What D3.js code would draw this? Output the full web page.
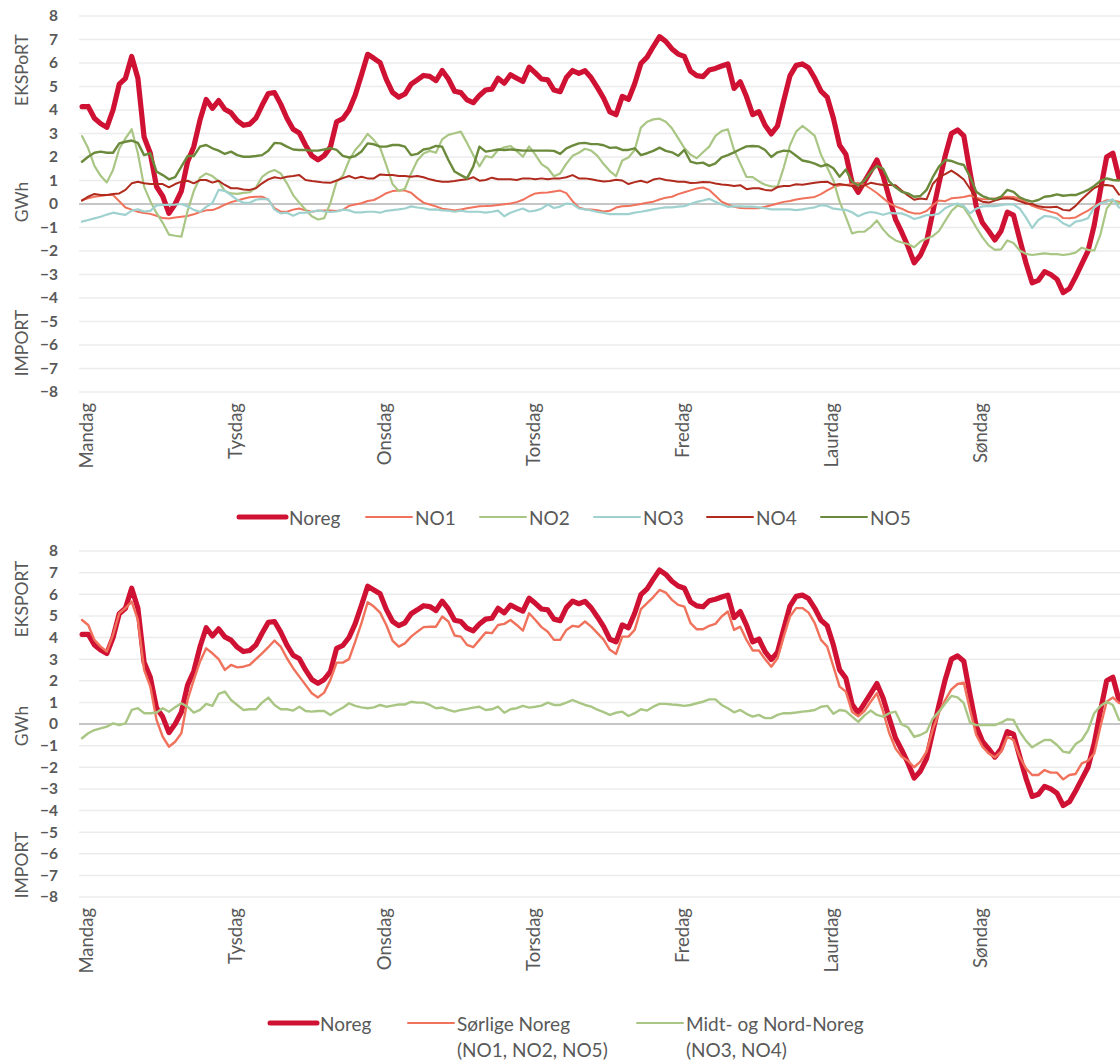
<!DOCTYPE html>
<html><head><meta charset="utf-8">
<script src="https://cdn.jsdelivr.net/npm/d3@7"></script>
<style>
body{margin:0;background:#fff}
svg{display:block;font-family:Lato,"Noto Sans",sans-serif}
</style>
</head><body>
<svg id="chart" width="1120" height="1064"></svg>
<script>
// ---------- DATA ----------
const days = ["Mandag","Tysdag","Onsdag","Torsdag","Fredag","Laurdag","Søndag"];
const yTickValues = [8,7,6,5,4,3,2,1,0,-1,-2,-3,-4,-5,-6,-7,-8];
const hours = d3.range(168);

const noreg = [4.14,4.15,3.65,3.42,3.26,4.0,5.1,5.35,6.28,5.35,2.85,2.16,0.74,0.33,-0.4,0.0,0.55,1.8,2.44,3.57,
4.45,4.07,4.4,4.03,3.88,3.55,3.35,3.4,3.65,4.2,4.7,4.74,4.25,3.65,3.18,3.02,2.5,2.06,1.88,2.06,
2.42,3.5,3.63,4.0,4.64,5.49,6.37,6.2,6.02,5.3,4.75,4.55,4.68,5.1,5.28,5.47,5.43,5.25,5.68,5.32,
4.8,4.74,4.43,4.31,4.62,4.85,4.89,5.35,5.14,5.5,5.35,5.22,5.82,5.58,5.32,5.28,4.85,4.78,5.38,5.68,
5.56,5.67,5.37,4.95,4.5,3.92,3.8,4.58,4.45,5.12,5.98,6.25,6.7,7.12,6.92,6.6,6.38,6.28,5.65,5.46,
5.42,5.7,5.77,5.87,5.96,4.92,5.2,4.57,3.8,3.93,3.35,2.98,3.32,4.4,5.45,5.9,5.96,5.8,5.35,4.8,
4.55,3.65,2.5,2.12,0.92,0.5,0.95,1.4,1.87,1.2,0.25,-0.65,-1.2,-1.8,-2.5,-2.18,-1.6,-0.35,0.88,2.05,
3.0,3.15,2.9,1.35,-0.1,-0.8,-1.15,-1.53,-1.15,-0.35,-0.47,-1.5,-2.5,-3.35,-3.25,-2.88,-3.0,-3.2,-3.77,-3.6,
-3.1,-2.55,-2.0,-0.9,0.6,2.0,2.16,1.1];

const no1 = [0.17,0.24,0.31,0.34,0.38,0.38,0.12,-0.15,-0.24,-0.33,-0.38,-0.42,-0.5,-0.6,-0.62,-0.57,-0.54,-0.51,-0.44,-0.34,
-0.27,-0.26,-0.16,-0.03,0.08,0.15,0.22,0.29,0.31,0.31,0.18,-0.17,-0.32,-0.33,-0.24,-0.19,-0.27,-0.33,-0.29,-0.28,
-0.28,-0.3,-0.25,-0.08,-0.02,0.03,0.13,0.17,0.3,0.46,0.55,0.57,0.57,0.48,0.25,0.06,-0.02,-0.1,-0.2,-0.23,
-0.28,-0.23,-0.18,-0.14,-0.1,-0.09,-0.07,-0.04,-0.01,0.02,0.08,0.18,0.33,0.45,0.48,0.49,0.53,0.57,0.46,0.12,
-0.15,-0.22,-0.23,-0.27,-0.32,-0.29,-0.15,-0.1,-0.09,-0.04,0.0,0.05,0.1,0.19,0.27,0.31,0.42,0.5,0.58,0.66,
0.7,0.6,0.35,0.1,-0.02,-0.12,-0.17,-0.18,-0.18,-0.18,-0.12,-0.05,0.02,0.09,0.13,0.19,0.23,0.27,0.3,0.42,
0.58,0.72,0.8,0.81,0.85,0.9,0.82,0.65,0.47,0.25,0.03,-0.1,-0.2,-0.33,-0.4,-0.4,-0.3,-0.05,0.15,0.12,
0.24,0.27,0.3,0.36,0.27,0.2,0.2,0.23,0.3,0.31,0.3,0.22,0.08,-0.08,-0.17,-0.25,-0.33,-0.4,-0.6,-0.61,
-0.57,-0.42,-0.28,-0.1,0.05,0.16,0.14,0.1];

const no2 = [2.89,2.37,1.62,1.2,0.92,1.45,2.35,2.79,3.18,2.16,0.74,0.12,-0.38,-0.8,-1.3,-1.35,-1.39,-0.3,0.55,1.12,
1.3,1.19,0.97,0.55,0.45,0.43,0.47,0.5,0.7,1.15,1.35,1.45,1.3,0.88,0.38,0.05,-0.24,-0.52,-0.66,-0.6,
0.05,0.95,1.2,1.85,2.3,2.6,2.98,2.72,2.4,1.65,0.85,0.55,0.65,1.3,1.85,2.15,2.26,2.18,2.75,2.94,
3.01,3.08,2.6,2.08,1.6,2.04,1.98,2.3,2.41,2.47,2.25,2.01,2.45,2.1,1.7,1.52,1.18,1.3,1.72,2.05,
2.18,2.35,2.27,2.05,1.7,1.4,1.19,1.85,1.98,2.3,3.25,3.5,3.6,3.63,3.5,3.22,2.8,2.38,2.1,1.95,
2.2,2.44,2.9,3.1,3.18,2.3,1.73,1.15,1.14,0.96,0.82,0.75,0.74,1.55,2.5,3.08,3.32,3.12,2.9,2.1,
1.55,1.0,0.1,-0.55,-1.25,-1.18,-1.18,-0.98,-0.7,-1.08,-1.37,-1.55,-1.64,-1.7,-1.84,-1.6,-1.47,-1.37,-1.15,-0.72,
-0.3,-0.06,-0.15,-0.55,-1.0,-1.42,-1.76,-1.95,-1.93,-1.55,-1.66,-1.98,-2.12,-2.17,-2.13,-2.1,-2.13,-2.13,-2.17,-2.13,
-2.07,-1.86,-1.95,-1.98,-1.3,-0.2,0.15,0.03];

const no3 = [-0.75,-0.68,-0.61,-0.54,-0.45,-0.37,-0.42,-0.46,-0.28,-0.23,-0.32,-0.29,-0.06,-0.04,-0.04,-0.03,0.0,-0.1,-0.25,-0.33,
-0.12,0.04,0.6,0.56,0.38,0.18,0.05,0.05,0.18,0.22,0.2,-0.24,-0.4,-0.37,-0.5,-0.38,-0.37,-0.33,-0.27,-0.32,
-0.34,-0.32,-0.24,-0.27,-0.36,-0.36,-0.33,-0.33,-0.37,-0.29,-0.26,-0.23,-0.19,-0.1,-0.15,-0.18,-0.24,-0.23,-0.27,-0.28,
-0.33,-0.28,-0.33,-0.33,-0.33,-0.37,-0.33,-0.28,-0.52,-0.37,-0.28,-0.19,-0.32,-0.28,-0.2,-0.02,-0.17,-0.11,0.02,0.0,
-0.19,-0.23,-0.27,-0.34,-0.38,-0.43,-0.43,-0.43,-0.43,-0.37,-0.33,-0.28,-0.23,-0.18,-0.14,-0.14,-0.11,-0.09,0.0,0.09,
0.15,0.22,0.1,-0.02,-0.12,-0.1,-0.1,-0.11,-0.11,-0.14,-0.18,-0.23,-0.23,-0.23,-0.23,-0.26,-0.23,-0.18,-0.14,-0.05,
-0.08,-0.2,-0.23,-0.25,-0.35,-0.52,-0.4,-0.34,-0.38,-0.46,-0.38,-0.4,-0.4,-0.5,-0.64,-0.57,-0.47,-0.47,-0.41,-0.18,
-0.05,0.02,-0.08,-0.4,-0.2,-0.1,-0.09,-0.09,-0.05,-0.01,-0.02,-0.2,-0.57,-1.02,-0.68,-0.51,-0.54,-0.61,-0.82,-0.95,
-0.75,-0.7,-0.6,-0.15,0.03,0.1,0.2,-0.15];

const no4 = [0.14,0.31,0.43,0.38,0.38,0.43,0.45,0.6,0.88,0.95,0.88,0.85,0.85,0.85,0.71,0.85,0.95,0.99,0.88,1.02,
1.02,0.91,0.99,0.81,0.67,0.67,0.62,0.6,0.67,0.88,1.05,1.14,1.09,1.16,1.19,1.23,1.02,0.98,0.95,0.91,
0.9,1.0,1.1,1.19,1.09,1.16,1.09,1.09,1.26,1.23,1.23,1.19,1.19,1.16,1.19,1.14,1.05,0.99,0.95,0.95,
0.98,1.02,1.05,1.14,0.99,1.02,1.12,1.05,1.05,1.05,1.02,1.09,1.09,1.05,1.09,1.05,1.09,1.09,1.14,1.23,
1.09,1.09,1.05,1.0,0.96,0.98,1.03,1.0,0.85,0.93,0.99,0.91,1.04,1.09,1.02,0.99,0.95,0.95,0.89,0.9,
0.94,0.93,0.87,0.83,0.81,0.77,0.8,0.63,0.67,0.67,0.6,0.57,0.72,0.77,0.77,0.84,0.82,0.86,0.9,0.94,
0.95,0.81,0.85,0.81,0.76,0.64,0.8,0.9,0.85,0.81,0.81,0.8,0.57,0.36,0.18,0.23,0.2,0.85,1.14,1.27,
1.42,1.25,1.04,0.65,0.22,0.1,0.06,0.15,0.22,0.24,0.21,0.12,0.02,0.0,-0.1,-0.14,-0.14,-0.12,-0.25,-0.28,
-0.08,0.2,0.45,0.68,0.8,0.81,0.77,0.4];

const no5 = [1.8,2.01,2.18,2.23,2.18,2.18,2.58,2.65,2.7,2.6,2.08,2.16,1.38,1.23,1.05,1.14,1.59,2.04,2.04,2.44,
2.51,2.37,2.27,2.13,2.23,2.08,2.01,2.01,2.04,2.08,2.27,2.6,2.58,2.44,2.32,2.3,2.3,2.27,2.27,2.32,
2.38,2.3,2.05,1.98,2.04,2.23,2.58,2.54,2.44,2.44,2.51,2.51,2.44,2.08,2.13,2.32,2.37,2.47,2.44,1.87,
1.38,1.23,1.09,1.59,2.44,2.23,2.27,2.32,2.3,2.32,2.3,2.27,2.27,2.27,2.27,2.27,2.26,2.13,2.37,2.48,
2.58,2.6,2.55,2.55,2.5,2.39,2.41,2.3,2.3,2.37,2.08,2.16,2.26,2.4,2.26,2.2,2.05,2.3,1.8,1.73,
1.76,1.62,1.73,1.98,2.08,2.2,2.33,2.45,2.47,2.45,2.3,2.0,2.2,2.27,2.25,2.05,1.85,1.8,1.72,1.6,
1.68,1.52,1.16,1.47,0.95,0.79,1.0,1.35,1.62,1.5,0.95,0.71,0.52,0.45,0.31,0.34,0.6,1.14,1.59,1.87,
1.83,1.73,1.66,1.16,0.52,0.34,0.24,0.2,0.31,0.6,0.52,0.28,0.17,0.1,0.17,0.31,0.34,0.41,0.35,0.38,
0.38,0.48,0.6,0.77,0.98,1.09,1.02,1.0];

const sorlige = [4.81,4.58,3.89,3.58,3.35,4.12,5.12,5.36,5.66,4.81,2.5,1.73,0.19,-0.59,-1.05,-0.82,-0.43,1.11,2.04,2.88,
3.5,3.27,3.0,2.5,2.73,2.62,2.65,2.73,3.0,3.27,3.55,3.86,3.58,3.04,2.58,2.19,1.81,1.42,1.23,1.45,
2.04,2.84,2.84,3.0,3.81,4.66,5.63,5.43,5.15,4.58,3.86,3.58,3.73,4.04,4.27,4.48,4.5,4.5,4.97,4.74,
4.09,4.04,3.66,3.55,3.89,4.23,4.2,4.58,4.63,4.81,4.58,4.32,5.12,4.81,4.48,4.27,3.89,3.89,4.35,4.54,
4.5,4.74,4.5,4.2,3.9,3.43,3.24,4.04,4.04,4.35,5.31,5.59,5.87,6.2,6.08,5.74,5.51,5.43,4.66,4.38,
4.38,4.54,4.63,4.97,5.2,4.35,4.5,3.89,3.4,3.4,3.0,2.65,3.04,4.04,4.97,5.36,5.36,5.15,4.66,3.89,
3.58,2.65,1.73,1.5,0.57,0.36,0.6,1.03,1.42,0.57,-0.43,-1.13,-1.51,-1.7,-2.0,-1.74,-1.28,-0.25,0.52,1.11,
1.6,1.85,1.91,0.65,-0.51,-1.05,-1.36,-1.54,-1.28,-0.59,-0.74,-1.51,-2.05,-2.36,-2.36,-2.13,-2.25,-2.25,-2.56,-2.36,
-2.31,-1.82,-1.7,-1.36,-0.12,1.03,1.23,0.96];

const midtNord = [-0.66,-0.43,-0.28,-0.2,-0.12,0.03,-0.05,0.03,0.65,0.73,0.5,0.5,0.53,0.73,0.57,0.77,0.96,0.8,0.53,0.65,
0.93,0.84,1.39,1.5,1.11,0.88,0.65,0.68,0.68,0.99,1.22,0.88,0.68,0.68,0.62,0.8,0.6,0.57,0.6,0.6,
0.42,0.6,0.75,0.96,0.84,0.77,0.73,0.77,0.88,0.8,0.85,0.9,0.9,1.03,0.99,0.99,0.88,0.73,0.76,0.65,
0.57,0.65,0.7,0.76,0.8,0.65,0.68,0.8,0.52,0.68,0.73,0.84,0.76,0.8,0.85,0.99,0.88,0.88,0.99,1.11,
0.99,0.88,0.8,0.66,0.55,0.42,0.52,0.57,0.37,0.5,0.68,0.62,0.8,0.93,0.93,0.9,0.88,0.84,0.88,0.96,
1.03,1.14,1.14,0.88,0.73,0.54,0.65,0.47,0.34,0.42,0.27,0.27,0.42,0.5,0.5,0.53,0.57,0.6,0.65,0.8,
0.84,0.47,0.65,0.6,0.34,0.1,0.4,0.62,0.42,0.34,0.5,0.57,-0.02,-0.15,-0.59,-0.51,-0.36,0.25,0.57,0.95,
1.3,1.23,0.96,0.06,-0.05,-0.05,-0.05,-0.05,0.06,0.22,0.19,-0.36,-0.77,-1.08,-0.9,-0.74,-0.74,-0.97,-1.28,-1.33,
-0.93,-0.74,-0.28,0.5,0.83,1.03,0.88,0.19];

// ---------- DRAWING ----------
const svg = d3.select("#chart");
const GREY = "#595959";
const x = d3.scalePoint().domain(hours).range([82, 82 + 167 * 6.21]);

function drawPanel(cfg) {
  const y = d3.scaleLinear().domain([-8, 8]).range([cfg.yBottom, cfg.yTop]);
  const g = svg.append("g");

  // gridlines
  g.append("g").selectAll("line").data(yTickValues).join("line")
    .attr("x1", 79).attr("x2", 1122)
    .attr("y1", d => y(d)).attr("y2", d => y(d))
    .attr("stroke", d => d === 0 ? "#c6c6c6" : "#ececec")
    .attr("stroke-width", d => d === 0 ? 2 : 1.5);

  // y axis tick labels
  const yAxis = d3.axisLeft(y).tickValues(yTickValues).tickSize(0).tickPadding(0)
    .tickFormat(d3.format("d"));
  const ya = g.append("g").attr("transform", "translate(58,0)").call(yAxis);
  ya.select(".domain").remove();
  ya.selectAll("text").attr("fill", GREY).attr("font-size", 15.5).attr("font-weight", 700)
    .attr("font-family", "Lato, 'Noto Sans', sans-serif");

  // axis titles
  cfg.titles.forEach(t => {
    g.append("text").attr("transform", `translate(28,${t.y}) rotate(-90)`)
      .attr("text-anchor", "middle").attr("font-size", 17.5).attr("fill", GREY).text(t.text);
  });

  // x labels
  const xAxis = d3.axisBottom(x).tickValues(hours.filter(h => h % 24 === 0))
    .tickSize(0).tickFormat(h => days[h / 24]);
  const xa = g.append("g").attr("transform", `translate(0,${cfg.xLabelY})`).call(xAxis);
  xa.select(".domain").remove();
  xa.selectAll("text").attr("fill", GREY).attr("font-size", 18.5)
    .attr("font-family", "Lato, 'Noto Sans', sans-serif")
    .attr("text-anchor", "end").attr("dy", null).attr("y", 0)
    .attr("transform", "translate(3,0) rotate(-90)")
    .attr("dominant-baseline", "central");

  // lines
  const line = d3.line().x((d, i) => x(hours[i])).y(d => y(d));
  cfg.series.forEach(s => {
    g.append("path").datum(s.values).attr("d", line)
      .attr("fill", "none").attr("stroke", s.color).attr("stroke-width", s.width)
      .attr("stroke-linejoin", "round").attr("stroke-linecap", "round");
  });

  // legend
  cfg.legend.forEach(it => {
    g.append("line").attr("x1", it.x).attr("x2", it.x + it.len)
      .attr("y1", it.y).attr("y2", it.y)
      .attr("stroke", it.color).attr("stroke-width", it.width).attr("stroke-linecap", "round");
    it.lines.forEach((txt, k) => {
      g.append("text").attr("x", it.x + it.len + 3).attr("y", it.y + k * 26)
        .attr("dominant-baseline", "central").attr("font-size", 19).attr("fill", GREY).text(txt);
    });
  });
}

const C = { noreg: "#cf1233", no1: "#f0725c", no2: "#a9c685", no3: "#9fd2cf", no4: "#b02a1d", no5: "#6b8a3c",
            sor: "#f0725c", midt: "#a9c685" };

drawPanel({
  yTop: 16, yBottom: 392, xLabelY: 403,
  titles: [{ text: "EKSPoRT", y: 70 }, { text: "GWh", y: 202 }, { text: "IMPORT", y: 343 }],
  series: [
    { values: noreg, color: C.noreg, width: 5.2 },
    { values: no1, color: C.no1, width: 2 },
    { values: no2, color: C.no2, width: 2.2 },
    { values: no3, color: C.no3, width: 2.2 },
    { values: no4, color: C.no4, width: 2 },
    { values: no5, color: C.no5, width: 2.4 }
  ],
  legend: [
    { x: 239, y: 517, len: 47, color: C.noreg, width: 5, lines: ["Noreg"] },
    { x: 366, y: 517, len: 46, color: C.no1, width: 2, lines: ["NO1"] },
    { x: 480, y: 517, len: 46, color: C.no2, width: 2, lines: ["NO2"] },
    { x: 594, y: 517, len: 46, color: C.no3, width: 2, lines: ["NO3"] },
    { x: 707, y: 517, len: 46, color: C.no4, width: 2, lines: ["NO4"] },
    { x: 821, y: 517, len: 46, color: C.no5, width: 2, lines: ["NO5"] }
  ]
});

drawPanel({
  yTop: 551, yBottom: 897, xLabelY: 908,
  titles: [{ text: "EKSPORT", y: 599 }, { text: "GWh", y: 726 }, { text: "IMPORT", y: 865 }],
  series: [
    { values: noreg, color: C.noreg, width: 5.2 },
    { values: sorlige, color: C.sor, width: 2.4 },
    { values: midtNord, color: C.midt, width: 2.4 }
  ],
  legend: [
    { x: 270, y: 1023, len: 47, color: C.noreg, width: 5, lines: ["Noreg"] },
    { x: 408, y: 1023, len: 46, color: C.sor, width: 2, lines: ["Sørlige Noreg", "(NO1, NO2, NO5)"] },
    { x: 637, y: 1023, len: 46, color: C.midt, width: 2, lines: ["Midt- og Nord-Noreg", "(NO3, NO4)"] }
  ]
});
</script>
</body></html>
